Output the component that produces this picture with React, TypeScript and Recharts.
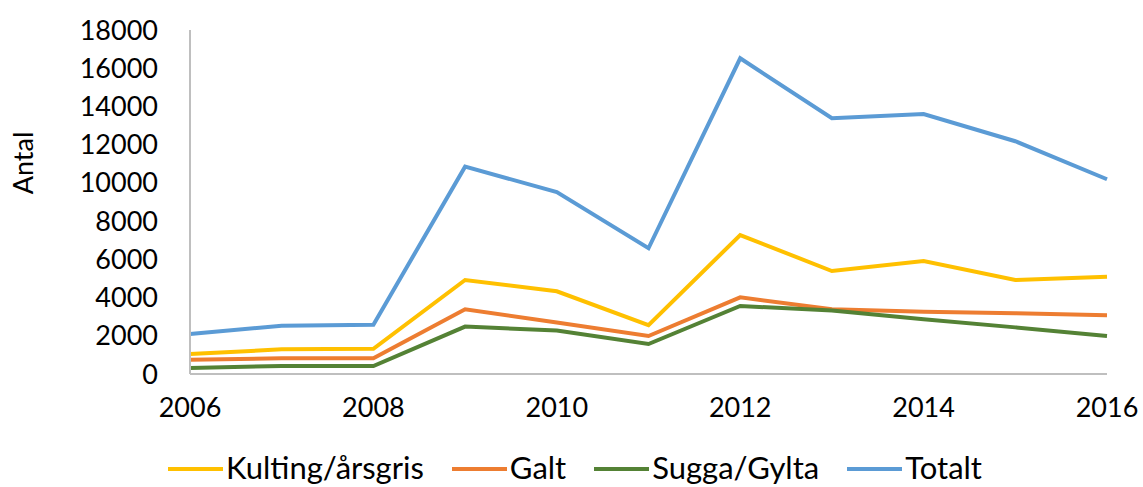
import React from 'react';
import { LineChart, Line, XAxis, YAxis, Legend } from 'recharts';

const years = [2006, 2007, 2008, 2009, 2010, 2011, 2012, 2013, 2014, 2015, 2016];
const kulting = [1050, 1290, 1320, 4920, 4330, 2560, 7270, 5390, 5910, 4920, 5090];
const galt = [750, 820, 820, 3390, 2690, 1990, 4010, 3390, 3260, 3180, 3070];
const sugga = [310, 420, 420, 2480, 2270, 1570, 3560, 3320, 2860, 2440, 1990];
const totalt = [2090, 2530, 2580, 10850, 9520, 6580, 16520, 13380, 13600, 12180, 10190];

const xTicks = [2006, 2008, 2010, 2012, 2014, 2016];
const yTicks = [0, 2000, 4000, 6000, 8000, 10000, 12000, 14000, 16000, 18000];

const series = [
  { key: 'kulting', name: 'Kulting/årsgris', color: '#FFC000' },
  { key: 'galt', name: 'Galt', color: '#ED7D31' },
  { key: 'sugga', name: 'Sugga/Gylta', color: '#548235' },
  { key: 'totalt', name: 'Totalt', color: '#5B9BD5' },
];

const data = years.map((year, i) => ({
  year,
  kulting: kulting[i],
  galt: galt[i],
  sugga: sugga[i],
  totalt: totalt[i],
}));

const FONT = 'Lato, "Open Sans", sans-serif';

function LegendContent() {
  return (
    <div style={{ display: 'flex', justifyContent: 'center', alignItems: 'center', height: 40, paddingLeft: 43, fontFamily: FONT, fontSize: 31, color: '#000' }}>
      {series.map((s, i) => (
        <div key={s.key} style={{ display: 'flex', alignItems: 'center', marginRight: i < series.length - 1 ? 28 : 0 }}>
          <svg width={55} height={6} style={{ marginRight: 3, marginTop: 4 }}>
            <line x1={0} y1={3} x2={55} y2={3} stroke={s.color} strokeWidth={4} />
          </svg>
          <span>{s.name}</span>
        </div>
      ))}
    </div>
  );
}

export default function App() {
  return (
    <div style={{ position: 'absolute', left: 0, top: 0, background: '#fff' }}>
      <LineChart
        width={1143}
        height={487}
        data={data}
        margin={{ top: 30, right: 36, bottom: 0, left: 0 }}
        style={{ fontFamily: FONT }}
      >
        <XAxis
          dataKey="year"
          type="number"
          domain={[2006, 2016]}
          ticks={xTicks}
          stroke="#BFBFBF"
          strokeWidth={2}
          tickLine={false}
          tickSize={0}
          tickMargin={24}
          height={73}
          tick={{ fill: '#000', fontSize: 27 }}
        />
        <YAxis
          domain={[0, 18000]}
          ticks={yTicks}
          stroke="#BFBFBF"
          strokeWidth={2}
          tickLine={false}
          tickSize={0}
          tickMargin={32}
          width={190}
          tick={{ fill: '#000', fontSize: 27 }}
          label={{
            content: () => (
              <text x={22} y={163} transform="rotate(-90 22 163)" textAnchor="middle" dominantBaseline="central" fontSize={27} fill="#000" fontFamily={FONT}>
                Antal
              </text>
            ),
          }}
        />
        <Legend verticalAlign="bottom" content={<LegendContent />} wrapperStyle={{ height: 40 }} />
        {series.map((s) => (
          <Line
            key={s.key}
            type="linear"
            dataKey={s.key}
            name={s.name}
            stroke={s.color}
            strokeWidth={4}
            dot={false}
            isAnimationActive={false}
          />
        ))}
      </LineChart>
    </div>
  );
}
